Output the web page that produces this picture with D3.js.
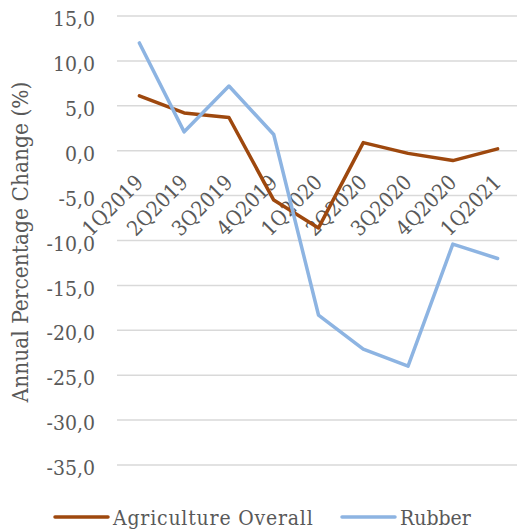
<!DOCTYPE html>
<html>
<head>
<meta charset="utf-8">
<script src="https://cdn.jsdelivr.net/npm/d3@7"></script>
<style>
  html, body { margin: 0; padding: 0; background: #fff; }
  svg { display: block; }
  text { font-family: "DejaVu Serif Condensed", "DejaVu Serif", serif; font-stretch: condensed; fill: #595959; }
</style>
</head>
<body>
<svg id="chart" width="517" height="530"></svg>
<script>
// Quarterly periods
const quarters = ["1Q2019", "2Q2019", "3Q2019", "4Q2019", "1Q2020", "2Q2020", "3Q2020", "4Q2020", "1Q2021"];
// Annual percentage change by series
const agricultureOverall = [6.1, 4.2, 3.7, -5.5, -8.6, 0.9, -0.3, -1.1, 0.2];
const rubber = [12.0, 2.1, 7.2, 1.8, -18.3, -22.1, -24.0, -10.4, -12.0];
// Value axis ticks
const yTicks = [15, 10, 5, 0, -5, -10, -15, -20, -25, -30, -35];
const seriesNames = ["Agriculture Overall", "Rubber"];
const seriesColors = ["#9E480E", "#8DB4E2"];

const svg = d3.select("#chart");
const plotLeft = 117, plotRight = 520, plotTop = 16, plotBottom = 465;

const x = d3.scalePoint().domain(quarters).range([plotLeft, plotRight]).padding(0.5);
const y = d3.scaleLinear().domain([-35, 15]).range([plotBottom, plotTop]);

const fmt = v => d3.format(".1f")(v).replace(".", ",").replace("−", "-");

// Horizontal gridlines
svg.append("g")
  .selectAll("line")
  .data(yTicks)
  .join("line")
  .attr("x1", plotLeft).attr("x2", plotRight)
  .attr("y1", d => y(d)).attr("y2", d => y(d))
  .attr("stroke", "#d9d9d9").attr("stroke-width", 1.5);

// Value axis labels
const yAxis = d3.axisLeft(y).tickValues(yTicks).tickSize(0).tickPadding(0).tickFormat(fmt);
const yg = svg.append("g").attr("transform", `translate(${95},0)`).call(yAxis);
yg.select(".domain").remove();
yg.selectAll("text")
  .attr("font-size", 21)
  .attr("font-family", null)
  .attr("fill", "#595959")
  .attr("dy", "0.46em");

// Axis title
svg.append("text")
  .attr("transform", `translate(${28},${242}) rotate(-90)`)
  .attr("text-anchor", "middle")
  .attr("font-size", 22.5)
  .text("Annual Percentage Change (%)");

// Category labels along the zero line, rotated
svg.append("g")
  .selectAll("text")
  .data(quarters)
  .join("text")
  .attr("transform", d => `translate(${x(d) + 5},${y(0) + 33}) rotate(-45)`)
  .attr("text-anchor", "end")
  .attr("font-size", 21)
  .text(d => d);

// Series lines
const line = d3.line().x((d, i) => x(quarters[i])).y(d => y(d));
[agricultureOverall, rubber].forEach((vals, k) => {
  svg.append("path")
    .datum(vals)
    .attr("d", line)
    .attr("fill", "none")
    .attr("stroke", seriesColors[k])
    .attr("stroke-width", 3.5)
    .attr("stroke-linejoin", "round")
    .attr("stroke-linecap", "round");
});

// Legend
const legendX = [55, 342];
seriesNames.forEach((name, k) => {
  const g = svg.append("g").attr("transform", `translate(${legendX[k]},${517})`);
  g.append("line").attr("x1", 0).attr("x2", 53).attr("y1", 0).attr("y2", 0)
    .attr("stroke", seriesColors[k]).attr("stroke-width", 3.5).attr("stroke-linecap", "round");
  g.append("text").attr("x", 58).attr("dy", "0.36em").attr("font-size", 21)
    .attr("letter-spacing", k === 0 ? 0.8 : 0).text(name);
});
</script>
</body>
</html>
